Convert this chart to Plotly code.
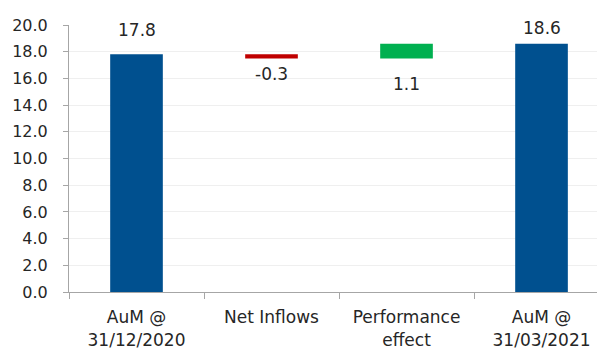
import plotly.graph_objects as go

# Assets under management bridge, in billions
categories = ["AuM @<br>31/12/2020", "Net Inflows", "Performance<br>effect", "AuM @<br>31/03/2021"]
measures = ["absolute", "relative", "relative", "total"]
values = [17.8, -0.3, 1.1, 18.6]
value_labels = ["17.8", "-0.3", "1.1", "18.6"]
y_ticks = [0, 2, 4, 6, 8, 10, 12, 14, 16, 18, 20]

BLUE = "#00508F"
RED = "#C00000"
GREEN = "#00B050"
TEXT = "#262626"
FONT = "DejaVu Sans"

fig = go.Figure(go.Waterfall(
    x=categories,
    y=values,
    measure=measures,
    totals=dict(marker=dict(color=BLUE)),
    increasing=dict(marker=dict(color=GREEN)),
    decreasing=dict(marker=dict(color=RED)),
    connector=dict(visible=False),
    textposition="none",
    hoverinfo="x+y",
))

# running bar extents to place the value labels
starts, ends = [], []
running = 0.0
for m, v in zip(measures, values):
    if m == "absolute":
        s, e = 0.0, v
        running = v
    elif m == "total":
        s, e = 0.0, running
    else:
        s, e = running, running + v
        running = e
    starts.append(s)
    ends.append(e)

label_offsets = [24, -16, -26, 16]
for cat, m, s, e, txt, off in zip(categories, measures, starts, ends, value_labels, label_offsets):
    y = max(s, e) if off > 0 else min(s, e)
    fig.add_annotation(x=cat, y=y, text=txt, showarrow=False, yshift=off,
                       yanchor="middle", font=dict(family=FONT, size=17, color=TEXT))

fig.update_layout(
    width=597, height=350,
    margin=dict(l=69, r=0, t=25, b=58),
    paper_bgcolor="white", plot_bgcolor="white",
    waterfallgap=0.61,
    showlegend=False,
    font=dict(family=FONT, color=TEXT, size=16),
)
fig.update_xaxes(
    type="category",
    range=[-0.5, 3.411],
    showline=True, linecolor="#A6A6A6", linewidth=1,
    ticks="outside", tickson="boundaries", ticklen=6, tickcolor="#A6A6A6",
    ticklabelstandoff=10,
    tickfont=dict(family=FONT, size=17, color=TEXT),
    showgrid=False,
)
fig.update_yaxes(
    range=[0, 20],
    tickvals=y_ticks,
    tickformat=".1f",
    showline=True, linecolor="#A6A6A6", linewidth=1,
    ticks="outside", ticklen=5, tickcolor="#A6A6A6",
    ticklabelstandoff=12,
    tickfont=dict(family=FONT, size=16, color=TEXT),
    showgrid=True, gridcolor="#EFEFEF", gridwidth=1,
    zeroline=False,
)

fig.write_html("out.html")
